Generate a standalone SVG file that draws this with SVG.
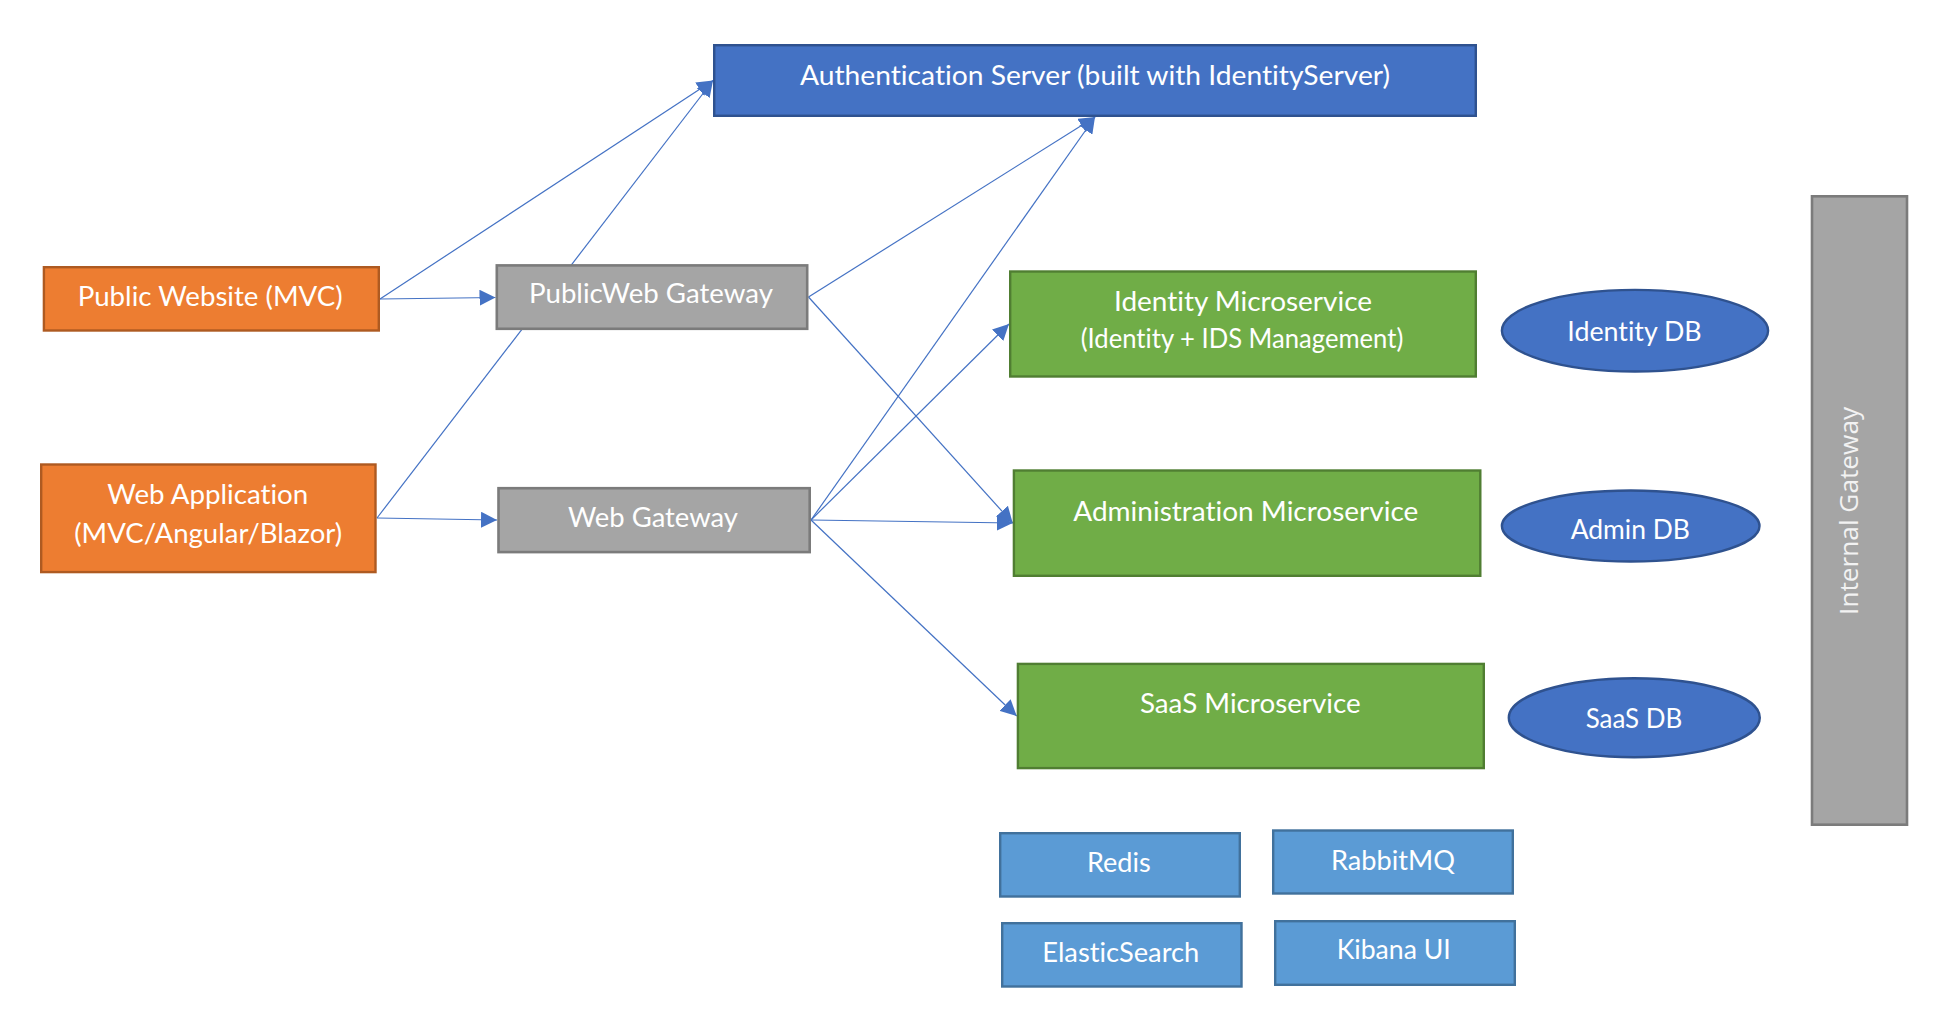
<svg xmlns="http://www.w3.org/2000/svg" width="1958" height="1034" viewBox="0 0 1958 1034">
<defs>
<marker id="arr" markerUnits="userSpaceOnUse" markerWidth="16" markerHeight="16" refX="16" refY="8" orient="auto" viewBox="0 0 16 16">
<path d="M0,0 L16,8 L0,16 z" fill="#4472C4"/>
</marker>
<style>
.t{font-family:Lato,"Liberation Sans",Arial,sans-serif;font-size:27px;fill:#FFFFFF;text-anchor:middle;font-variant-ligatures:none}
.ig{font-family:"Open Sans","DejaVu Sans",sans-serif;font-size:25px;fill:#F2F2F2;text-anchor:middle}
.c{stroke:#4472C4;stroke-width:1.2;fill:none;marker-end:url(#arr)}
.orange{fill:#ED7D31;stroke:#AE5A21;stroke-width:2.4}
.gray{fill:#A5A5A5;stroke:#7B7B7B;stroke-width:2.6}
.blue{fill:#4472C4;stroke:#2F528F;stroke-width:2.4}
.green{fill:#70AD47;stroke:#507E32;stroke-width:2.4}
.lblue{fill:#5B9BD5;stroke:#41719C;stroke-width:2.4}
</style>
</defs>
<rect width="1958" height="1034" fill="#FFFFFF"/>
<g id="connectors">
<line class="c" x1="380" y1="299" x2="713" y2="80.5"/>
<line class="c" x1="377" y1="518" x2="713" y2="80.5"/>
<line class="c" x1="808.5" y1="297" x2="1095" y2="117"/>
<line class="c" x1="811" y1="520" x2="1095" y2="117"/>
<line class="c" x1="380" y1="299" x2="495.5" y2="297.5"/>
<line class="c" x1="377" y1="518" x2="497" y2="520"/>
<line class="c" x1="808.5" y1="297" x2="1012.7" y2="523"/>
<line class="c" x1="811" y1="520" x2="1012.7" y2="523"/>
<line class="c" x1="811" y1="520" x2="1009" y2="324"/>
<line class="c" x1="811" y1="520" x2="1016.7" y2="716"/>
</g>
<g id="auth-server">
<rect class="blue" x="714.2" y="45.2" width="761.6" height="70.6"/>
<text class="t" x="1095" y="85" textLength="590" lengthAdjust="spacingAndGlyphs">Authentication Server (built with IdentityServer)</text>
</g>
<g id="public-website">
<rect class="orange" x="43.9" y="267.2" width="334.9" height="63.3"/>
<text class="t" x="210.2" y="306" textLength="265" lengthAdjust="spacingAndGlyphs">Public Website (MVC)</text>
</g>
<g id="web-application">
<rect class="orange" x="41.2" y="464.5" width="334.3" height="107.6"/>
<text class="t" x="207.8" y="504" textLength="201" lengthAdjust="spacingAndGlyphs">Web Application</text>
<text class="t" x="208.2" y="542.7" textLength="268" lengthAdjust="spacingAndGlyphs">(MVC/Angular/Blazor)</text>
</g>
<g id="publicweb-gateway">
<rect class="gray" x="496.8" y="265.4" width="310.4" height="63.4"/>
<text class="t" x="651" y="303.4" textLength="244" lengthAdjust="spacingAndGlyphs">PublicWeb Gateway</text>
</g>
<g id="web-gateway">
<rect class="gray" x="498.5" y="488.2" width="311.2" height="63.9"/>
<text class="t" x="653" y="526.6" textLength="170" lengthAdjust="spacingAndGlyphs">Web Gateway</text>
</g>
<g id="identity-microservice">
<rect class="green" x="1010.2" y="271.5" width="465.6" height="105"/>
<text class="t" x="1243" y="310.7" textLength="258" lengthAdjust="spacingAndGlyphs">Identity Microservice</text>
<text class="t" x="1242" y="347.7" textLength="322.6" lengthAdjust="spacingAndGlyphs">(Identity + IDS Management)</text>
</g>
<g id="administration-microservice">
<rect class="green" x="1013.9" y="470.5" width="466.4" height="105.3"/>
<text class="t" x="1245.8" y="521" textLength="345" lengthAdjust="spacingAndGlyphs">Administration Microservice</text>
</g>
<g id="saas-microservice">
<rect class="green" x="1017.9" y="663.9" width="465.9" height="104.2"/>
<text class="t" x="1250.3" y="713.3" textLength="220.7" lengthAdjust="spacingAndGlyphs">SaaS Microservice</text>
</g>
<g id="identity-db">
<ellipse class="blue" cx="1635" cy="330.7" rx="133.1" ry="40.8"/>
<text class="t" x="1634.5" y="340.7" textLength="134.3" lengthAdjust="spacingAndGlyphs">Identity DB</text>
</g>
<g id="admin-db">
<ellipse class="blue" cx="1630.7" cy="526" rx="128.8" ry="35.5"/>
<text class="t" x="1630.3" y="539.3" textLength="119.3" lengthAdjust="spacingAndGlyphs">Admin DB</text>
</g>
<g id="saas-db">
<ellipse class="blue" cx="1634.3" cy="717.7" rx="125.5" ry="39.5"/>
<text class="t" x="1634" y="728.3" textLength="96.7" lengthAdjust="spacingAndGlyphs">SaaS DB</text>
</g>
<g id="redis">
<rect class="lblue" x="1000.2" y="833.2" width="239.6" height="63.3"/>
<text class="t" x="1118.8" y="872" textLength="63.7" lengthAdjust="spacingAndGlyphs">Redis</text>
</g>
<g id="rabbitmq">
<rect class="lblue" x="1273.2" y="830.5" width="239.6" height="63"/>
<text class="t" x="1393" y="870" textLength="124" lengthAdjust="spacingAndGlyphs">RabbitMQ</text>
</g>
<g id="elasticsearch">
<rect class="lblue" x="1002.2" y="923.2" width="239.3" height="63.3"/>
<text class="t" x="1120.8" y="961.7" textLength="157" lengthAdjust="spacingAndGlyphs">ElasticSearch</text>
</g>
<g id="kibana-ui">
<rect class="lblue" x="1275.2" y="921.2" width="239.6" height="63.6"/>
<text class="t" x="1393.7" y="959.3" textLength="114" lengthAdjust="spacingAndGlyphs">Kibana UI</text>
</g>
<g id="internal-gateway">
<rect class="gray" x="1812" y="196.3" width="95" height="628.4"/>
<text class="ig" x="1858.3" y="510.9" transform="rotate(-90 1858.3 510.9)" textLength="208" lengthAdjust="spacingAndGlyphs">Internal Gateway</text>
</g>
</svg>
